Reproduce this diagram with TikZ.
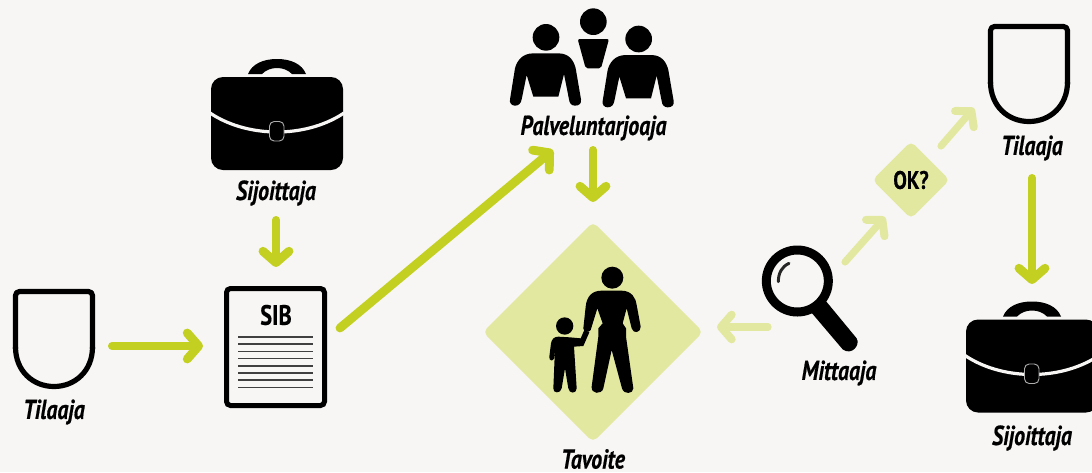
\documentclass[tikz,border=0pt]{standalone}
\usepackage{fontspec}
\usetikzlibrary{arrows.meta,shapes.geometric}
\newfontfamily\labfont[FakeStretch=0.8,FakeBold=0.5]{PT Sans}
\definecolor{bgc}{HTML}{F7F6F4}
\definecolor{gr}{HTML}{C3D021}
\definecolor{pale}{HTML}{E3E8A0}
\tikzset{
  iconbox/.style={inner sep=0pt,outer sep=0pt},
  lab/.style={inner sep=0pt,outer sep=0pt,font=\labfont\fontsize{20.5}{22}\selectfont\bfseries\itshape,text=black},
  upr/.style={inner sep=0pt,outer sep=0pt,font=\labfont\fontsize{21}{22}\selectfont\bfseries,text=black},
  arr/.style={draw=gr,line width=6pt,line cap=round,-{Straight Barb[round,length=8.5pt,width=19.5pt,line width=6.6pt]}},
  parr/.style={draw=pale,line width=5.4pt,line cap=round,-{Straight Barb[round,length=8pt,width=18.5pt,line width=6pt]}},
  zoomed/.style={x=.25pt,y=-.25pt},
}
\newcommand{\briefcaseicon}[2]{%
  \begin{scope}[shift={(#1,#2)}]
    \fill[black] (37,-3) .. controls (41,-13) and (52,-18) .. (66,-18) .. controls (80,-18) and (91,-13) .. (95,-3) -- (81,-3) .. controls (77,-7) and (72,-9) .. (66,-9) .. controls (60,-9) and (55,-7) .. (51,-3) -- cycle;
    \fill[black,rounded corners=9pt] (0,0) rectangle (132,93);
    \draw[bgc,line width=2.4pt] (-1,36) .. controls (20,50) and (45,55) .. (66,55) .. controls (87,55) and (112,50) .. (133,36);
    \draw[bgc!70!black,fill=black,line width=.7pt,rounded corners=3.5pt] (58.5,44.5) rectangle (73,64);
  \end{scope}}
\newcommand{\shieldicon}[2]{%
  \begin{scope}[shift={(#1,#2)}]
    \draw[black,line width=3.9pt,line join=round,rounded corners=3pt] (2.5,60) -- (2.5,2.5) -- (79.5,2.5) -- (79.5,60);
    \draw[black,line width=3.9pt] (2.5,58) .. controls (2.5,82) and (20,97.5) .. (41,97.5) .. controls (62,97.5) and (79.5,82) .. (79.5,58);
  \end{scope}}
\newcommand{\personicon}{%
  \fill[black] (190,160) -- (265,160) .. controls (300,160) and (312,185) .. (317,205) -- (333,298) .. controls (335,310) and (328,317) .. (315,317) .. controls (305,317) and (298,310) .. (297,298) -- (282,222) -- (265,290) -- (190,290) -- (170,225) -- (155,298) .. controls (153,310) and (146,317) .. (135,317) .. controls (124,317) and (118,308) .. (120,298) -- (135,205) .. controls (140,185) and (155,160) .. (190,160) -- cycle;
  \fill[black] (228,112) circle[radius=40];}
\begin{document}
\begin{tikzpicture}[x=.75pt,y=-.75pt]
\useasboundingbox (0,0) rectangle (1092,472);
\clip (0,0) rectangle (1092,472);
\fill[bgc] (0,0) rectangle (1092,472);

% icons
\briefcaseicon{211}{77}
\briefcaseicon{966}{319.5}
\shieldicon{13}{289}
\shieldicon{988}{24}

% boxes for icons (invisible) used by connectors
\node[iconbox,minimum width=61.5pt,minimum height=75pt] (til1) at (54,339) {};
\node[iconbox,minimum width=61.5pt,minimum height=75pt] (til2) at (1029,74) {};
\node[iconbox,minimum width=99pt,minimum height=69.75pt] (bri1) at (277,123.5) {};
\node[iconbox,minimum width=99pt,minimum height=69.75pt] (bri2) at (1032,366) {};

% labels
\node[lab] (sij1) at (276,193) {Sijoittaja};
\node[lab] (sij2) at (1032,438) {Sijoittaja};
\node[lab] (tl1) at (54,412) {Tilaaja};
\node[lab] (tl2) at (1032,148) {Tilaaja};
\node[lab] (pal) at (593.5,128) {Palveluntarjoaja};
\node[lab] (mit) at (839,373) {Mittaaja};
\node[lab] (tav) at (593,459) {Tavoite};

% SIB document
\node[draw=black,fill=bgc,line width=3.75pt,rounded corners=3pt,minimum width=73.5pt,minimum height=87.75pt,inner sep=0pt,outer sep=0pt] (sib) at (275.5,347) {};
\node[upr] (sibt) at (276,315) {SIB};
\foreach \yy in {337,344.2,351.4,358.6,365.8,373,380.2,387.4}
  \draw[black!75,line width=1.25pt] (238,\yy) -- (313,\yy);

% diamonds
\node[diamond,fill=pale,rounded corners=4pt,minimum width=165pt,minimum height=165pt,inner sep=0pt,outer sep=0pt,aspect=1] (tgt) at (593,332) {};
\node[diamond,fill=pale,rounded corners=4pt,minimum width=58pt,minimum height=58pt,inner sep=0pt,outer sep=0pt,aspect=1,font=\labfont\fontsize{19}{20}\selectfont\bfseries] (ok) at (911,180) {OK?};

% people group
\begin{scope}[shift={(470,0)},zoomed]
  \personicon
  \begin{scope}[shift={(278,5)}]
    \personicon
  \end{scope}
  \fill[black] (370,65) circle[radius=40];
  \fill[black,rounded corners=1.5pt] (323,117) -- (417,117) -- (393,205) -- (347,205) -- cycle;
  % adult
  \fill[black] (427,833) circle[radius=33];
  \fill[black] (395,872) -- (455,872) .. controls (485,872) and (498,895) .. (500,915) -- (512,980) .. controls (513,998) and (490,1003) .. (485,985) -- (470,925) -- (458,970) -- (468,985) -- (468,1010) -- (490,1165) .. controls (490,1182) and (462,1185) .. (456,1165) -- (425,1050) -- (400,1165) .. controls (395,1185) and (362,1182) .. (365,1160) -- (385,1010) -- (385,985) -- (398,970) -- (382,925) -- (362,990) .. controls (358,998) and (340,998) .. (340,985) -- (347,920) .. controls (350,890) and (365,872) .. (395,872) -- cycle;
  % child
  \fill[black] (284,978) circle[radius=26];
  \fill[black] (265,1010) -- (300,1012) -- (332,1015) -- (343,990) -- (358,997) -- (340,1038) -- (312,1040) -- (320,1165) .. controls (320,1182) and (297,1182) .. (295,1165) -- (285,1105) -- (275,1165) .. controls (272,1182) and (248,1180) .. (250,1165) -- (255,1045) -- (252,1075) .. controls (250,1085) and (236,1083) .. (238,1070) -- (243,1030) .. controls (245,1018) and (252,1010) .. (265,1010) -- cycle;
\end{scope}

% magnifier
\begin{scope}[shift={(710,0)},zoomed]
  \draw[black,line width=6.75pt] (262,843) circle[radius=93];
  \fill[black] (345,900) -- (440,1015) .. controls (452,1035) and (425,1068) .. (398,1048) -- (302,935) -- cycle;
  \draw[black!85,line width=2.2pt,line cap=round] (205,845) .. controls (205,820) and (215,800) .. (237,790);
\end{scope}
\node[iconbox,minimum width=54pt,minimum height=57pt] (mag) at (811,307) {};

% connectors
\draw[arr] ([shift={(0,27)}]sij1.center) -- ([shift={(.5,-80)}]sib.center);
\draw[arr] ([shift={(58,7)}]til1.center) -- ([shift={(-72.5,-1)}]sib.center);
\draw[arr,line width=6.6pt] ([shift={(64.5,-19)}]sib.center) -- ([shift={(-40.5,22)}]pal.center);
\draw[arr] ([shift={(-.5,22)}]pal.center) -- ([shift={(0,-130)}]tgt.center);
\draw[arr] ([shift={(0,30)}]tl2.center) -- ([shift={(0,-82)}]bri2.center);
\draw[parr] ([shift={(-43,20)}]mag.center) -- ([shift={(124,-5)}]tgt.center);
\draw[parr] ([shift={(34,-45)}]mag.center) -- ([shift={(-26,37)}]ok.center);
\draw[parr] ([shift={(30,-34)}]ok.center) -- ([shift={(-55,34)}]til2.center);
\end{tikzpicture}
\end{document}
